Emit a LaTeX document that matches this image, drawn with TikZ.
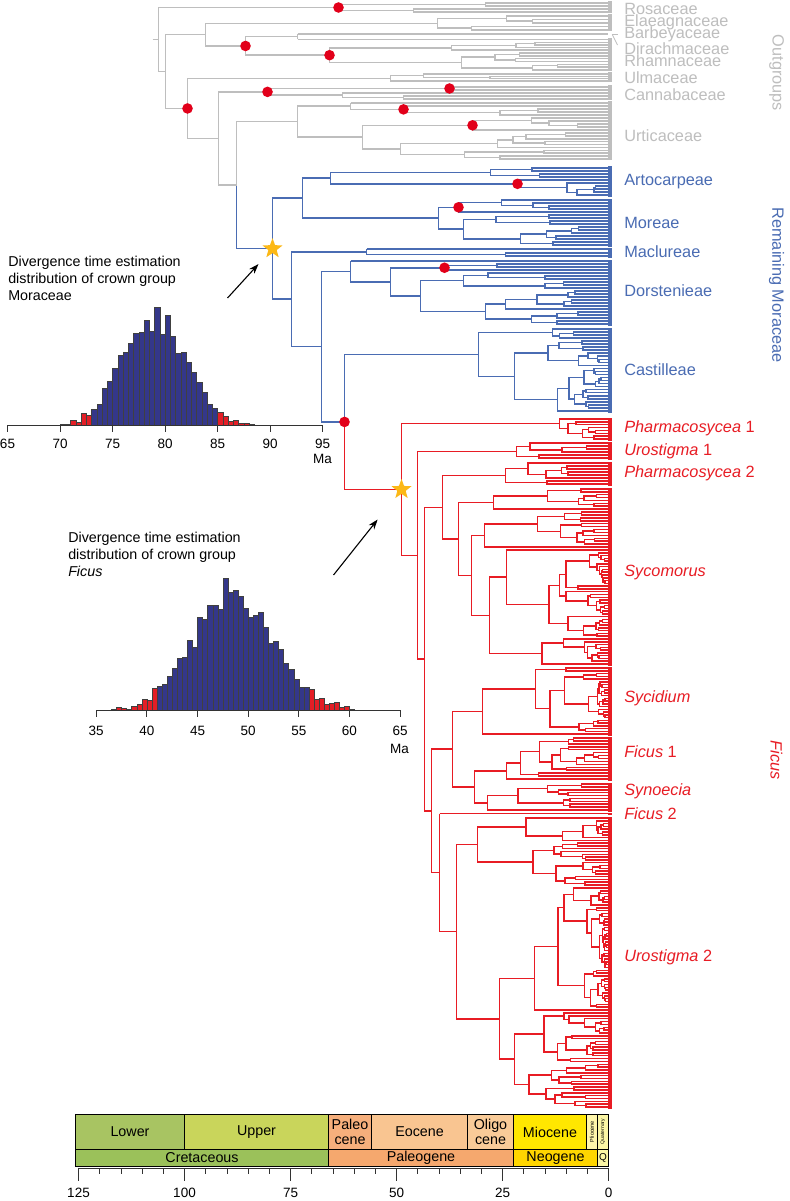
\documentclass[tikz,border=0pt]{standalone}
\usepackage{fontspec}
\setmainfont{Liberation Sans}
\usetikzlibrary{arrows.meta,shapes.geometric}

\definecolor{outgray}{RGB}{190,190,190}
\definecolor{morblue}{RGB}{74,108,179}
\definecolor{ficred}{RGB}{232,28,36}
\definecolor{dotred}{RGB}{226,0,26}
\definecolor{starorange}{RGB}{252,184,22}
\definecolor{histblue}{RGB}{52,55,138}
\definecolor{histred}{RGB}{228,30,38}
\definecolor{lowercret}{RGB}{168,196,98}
\definecolor{uppercret}{RGB}{201,213,91}
\definecolor{cretaceous}{RGB}{155,193,90}
\definecolor{paleocene}{RGB}{246,175,124}
\definecolor{eocene}{RGB}{249,197,145}
\definecolor{oligocene}{RGB}{249,203,152}
\definecolor{paleogene}{RGB}{245,168,110}
\definecolor{miocene}{RGB}{255,231,0}
\definecolor{pliocene}{RGB}{255,246,170}
\definecolor{quaternary}{RGB}{251,246,165}
\definecolor{neogene}{RGB}{255,214,0}

\def\tipx{607}
\def\brcol{outgray}
\gdef\dotlist{}
\gdef\starlist{}

% random clade: root x #1, #4 tips from y #2 to y #3; its own y goes to \cladey
\newcommand\clade[4]{%
  \ifnum#4<2\relax
    \draw[color=\brcol] (#1,#2) -- (\tipx,#2);%
    \xdef\cladey{#2}%
  \else
    \begingroup
    \pgfmathsetmacro\cs{(#3-#2)/(#4-1)}%
    \pgfmathtruncatemacro\ck{min(#4-1,1+floor(rnd*(#4-1)))}%
    \pgfmathtruncatemacro\cm{#4-\ck}%
    \pgfmathsetmacro\cyb{#2+(\ck-1)*\cs}%
    \pgfmathsetmacro\cyc{#2+\ck*\cs}%
    \pgfmathsetmacro\cxa{#1+(\tipx-#1)*(0.12+0.45*rnd)}%
    \pgfmathsetmacro\cxb{#1+(\tipx-#1)*(0.12+0.45*rnd)}%
    \edef\next{\noexpand\clade{\cxa}{#2}{\cyb}{\ck}}\next
    \let\cyA\cladey
    \edef\next{\noexpand\clade{\cxb}{\cyc}{#3}{\cm}}\next
    \let\cyB\cladey
    \pgfmathsetmacro\cym{(\cyA+\cyB)/2}%
    \draw[color=\brcol] (\cxa,\cyA) -- (#1,\cyA) -- (#1,\cyB) -- (\cxb,\cyB);%
    \xdef\cladey{\cym}%
    \endgroup
  \fi}
% fixed node at x #2: child A at x #3 drawn by #4, child B at x #5 drawn by #6
\newcommand\bnode[6][\parcol]{%
  \begingroup
  \let\parcol\brcol
  #4\let\yA\cladey
  #6\let\yB\cladey
  \pgfmathsetmacro\ym{(\yA+\yB)/2}%
  \draw[color=\parcol] (#3,\yA) -- (#2,\yA) -- (#2,\ym);%
  \draw[color=#1] (#2,\ym) -- (#2,\yB) -- (#5,\yB);%
  \xdef\cladey{\ym}%
  \endgroup}
\newcommand\leaf[2]{\draw[color=\brcol] (#1,#2) -- (\tipx,#2);\xdef\cladey{#2}}
\newcommand\dotat[1]{\xdef\dotlist{\unexpanded\expandafter{\dotlist}\noexpand\fill[dotred] (#1,\cladey) circle (5.3);}}
\newcommand\staron[2]{\xdef\starlist{\unexpanded\expandafter{\starlist}\noexpand\node[crownstar] (#2) at (#1,\cladey) {};}}

\begin{document}
\begin{tikzpicture}[x=1pt, y=-1pt, line width=1.5pt, line join=miter,
  clade/.style={anchor=west, inner sep=0pt, font=\fontsize{16.3}{19}\selectfont},
  group/.style={rotate=-90, inner sep=0pt, font=\fontsize{16.3}{19}\selectfont},
  note/.style={anchor=north west, align=left, inner sep=0pt, font=\fontsize{14.3}{17}\selectfont},
  tick/.style={font=\fontsize{13.5}{15}\selectfont, inner sep=0pt},
  epoch/.style={draw=black, line width=0.8pt},
  era/.style={font=\fontsize{14.3}{15}\selectfont, align=center, inner sep=0pt},
  bar/.style={draw=black!75, line width=0.4pt},
  crownstar/.style={star, star points=5, star point ratio=2.4, fill=starorange, inner sep=0pt, minimum size=21pt},
  pointer/.style={-{Stealth[length=10pt,width=7pt]}, line width=1.1pt}]
  \fill[white] (0,0) rectangle (789,1201);
  \pgfmathsetseed{11}

  % tree
  \bnode{158}{338}{\clade{338}{3}{12}{4}\dotat{338}}{165}{%
    \bnode{165}{205}{%
      \bnode{205}{437}{\clade{437}{16}{30}{5}}{245}{%
        \bnode{245}{297}{\bnode{297}{297}{\leaf{297}{34}}{297}{\leaf{297}{39.5}}}{329}{%
          \bnode{329}{451}{\clade{451}{42.5}{50}{4}}{461}{\clade{461}{53}{70}{7}}\dotat{329}}\dotat{245}}}{187}{%
      \bnode{187}{390}{\clade{390}{74}{81}{4}}{218}{%
        \bnode{218}{267}{%
          \bnode{267}{449}{\clade{449}{87}{90}{2}\dotat{449}}{342}{\clade{342}{93}{99}{3}}\dotat{267}}{236}{%
          \bnode[morblue]{236}{297}{%
            \bnode{297}{350}{%
              \bnode{350}{350}{\leaf{350}{103}}{403}{\clade{403}{106}{115}{4}\dotat{403}}}{362}{%
              \bnode{362}{472}{\clade{472}{118}{130}{5}\dotat{472}}{400}{\clade{400}{133}{159}{10}}}}{272}{%
            \def\brcol{morblue}%
            \bnode{272}{302}{%
              \bnode{302}{330}{%
                \bnode{330}{490}{\clade{490}{168}{177}{4}}{517}{\clade{517}{180}{195}{6}\dotat{517}}}{438}{%
                \bnode{438}{458}{\clade{458}{200}{212}{5}\dotat{458}}{463}{\clade{463}{215}{245}{11}}}}{291}{%
              \bnode{291}{366}{%
                \bnode{366}{366}{\leaf{366}{249}}{505}{\clade{505}{253}{256}{2}}}{321}{%
                \bnode{321}{350}{%
                  \bnode{350}{350}{\leaf{350}{261}}{390}{%
                    \bnode{390}{444}{\clade{444}{264}{270}{3}\dotat{444}}{420}{\clade{420}{273}{324}{18}}}}{344}{%
                  \bnode[ficred]{344}{478}{%
                    \bnode{478}{552}{\clade{552}{329}{338}{4}}{514}{\clade{514}{341}{411}{24}}}{401}{%
                    \def\brcol{ficred}%
                    \bnode{401}{559}{\clade{559}{419}{439}{8}}{417}{%
                      \bnode{417}{516}{\clade{516}{443}{458}{6}}{424}{%
                        \bnode{424}{442}{%
                          \bnode{442}{505}{\clade{505}{463}{484}{8}}{458}{%
                            \bnode{458}{493}{\clade{493}{489}{509}{8}}{471}{%
                              \bnode{471}{484}{\clade{484}{512}{547}{13}}{489}{\clade{489}{550}{664}{42}}}}}{431}{%
                          \bnode{431}{452}{%
                            \bnode{452}{482}{\clade{482}{668}{734}{25}}{474}{%
                              \bnode{474}{506}{\clade{506}{738}{779}{15}}{487}{\clade{487}{784}{810}{10}}}}{439}{%
                            \bnode{439}{439}{\leaf{439}{813.5}}{456}{%
                              \bnode{456}{477}{\clade{477}{818}{885}{25}}{499}{%
                                \bnode{499}{534}{\clade{534}{888}{1010}{44}}{514}{\clade{514}{1013}{1107}{34}}}}}}}}\staron{401}{ficcrown}}\dotat{344}}}}\staron{272}{morcrown}}}}\dotat{187}}}
  \draw[outgray] (152,\cladey) -- (158,\cladey);
  \dotlist
  \starlist

  % tip bars
  \foreach \a/\b in {1.5/13.5, 14.5/31.5, 38/71.5, 72.5/82.5, 85.5/100.5, 101.5/160.5}
    \fill[outgray] (607,\a) rectangle (611,\b);
  \draw[outgray, line width=0.8pt] (611,34) -- (617,34);
  \draw[outgray, line width=0.8pt] (612,35) -- (617,45);
  \foreach \a/\b in {166.5/196.5, 198.5/246.5, 247.5/257.5, 259.5/325.5, 327.5/412.5}
    \fill[morblue] (607,\a) rectangle (611,\b);
  \foreach \a/\b in {417.5/440.5, 441.5/459.5, 461.5/485.5, 487.5/665.5, 666.5/735.5, 736.5/780.5, 782.5/811.5, 812.5/814.5, 816.5/1108.5}
    \fill[ficred] (607,\a) rectangle (611,\b);

  % clade labels
  \foreach \y/\t in {9/Rosaceae, 22.7/Elaeagnaceae, 34.3/Barbeyaceae, 48.3/Dirachmaceae, 61/Rhamnaceae, 77.7/Ulmaceae, 95/Cannabaceae, 135.7/Urticaceae}
    \node[clade, outgray] at (623,\y) {\t};
  \foreach \y/\t in {182/Artocarpeae, 222.5/Moreae, 252/Maclureae, 291/Dorstenieae, 370/Castilleae}
    \node[clade, morblue] at (623,\y) {\t};
  \foreach \y/\t/\n in {428.5/Pharmacosycea/1, 451/Urostigma/1, 473/Pharmacosycea/2, 572/Sycomorus/, 698/Sycidium/, 752/Ficus/1, 791/Synoecia/, 814/Ficus/2, 957/Urostigma/2}
    \node[clade, ficred] at (623,\y) {\textit{\t} \n};
  \node[group, outgray] (outlab) at (776,73) {Outgroups};
  \node[group, morblue] (morlab) at (776,285) {Remaining Moraceae};
  \node[group, ficred] (ficlab) at (776,760) {\textit{Ficus}};

  % crown Moraceae histogram
  \node[note] (mornote) at (7,255) {Divergence time estimation\\distribution of crown group\\Moraceae};
  \coordinate (mortail) at (227,298);
  \draw[pointer, shorten >=11pt] (mortail) -- (morcrown);
  \foreach \m/\h in {70/0.7, 70.5/0.7, 71/5, 71.5/3, 72/12, 72.5/9.5, 85/13, 85.5/9, 86/4.3, 86.5/5, 87/2, 87.5/1.7, 88/0.7}
    \filldraw[bar, fill=histred] ({7+(\m-65)*10.5},425) rectangle ++(5.25,-\h);
  \foreach \m/\h in {73/15.5, 73.5/21, 74/37, 74.5/44, 75/57, 75.5/70, 76/72.7, 76.5/82, 77/92, 77.5/92.5, 78/105, 78.5/94, 79/118, 79.5/91, 80/110, 80.5/89, 81/72, 81.5/73, 82/63, 82.5/53, 83/43, 83.5/33, 84/21, 84.5/17}
    \filldraw[bar, fill=histblue] ({7+(\m-65)*10.5},425) rectangle ++(5.25,-\h);
  \draw[black!80, line width=0.8pt] (7,425) -- (322,425);
  \foreach \m in {65,70,...,95} {
    \draw[black!80, line width=0.8pt] ({7+(\m-65)*10.5},425) -- ++(0,7);
    \node[tick] at ({7+(\m-65)*10.5},444) {\m};
  }
  \node[tick] at (322,459) {Ma};

  % crown Ficus histogram
  \node[note] (ficnote) at (67,531) {Divergence time estimation\\distribution of crown group\\\textit{Ficus}};
  \coordinate (fictail) at (333,575);
  \draw[pointer, shorten >=27pt] (fictail) -- (ficcrown);
  \foreach \m/\h in {36.5/0.7, 37/2.7, 37.5/2, 38/1.3, 38.5/4, 39/6, 39.5/10.7, 40/10, 40.5/22, 56/21, 56.5/11.3, 57/12, 57.5/6, 58/6.7, 58.5/8.3, 59/2.7, 59.5/4, 60/1.3}
    \filldraw[bar, fill=histred] ({95.7+(\m-35)*10.13},710) rectangle ++(5.07,-\h);
  \foreach \m/\h in {41/24, 41.5/26, 42/34, 42.5/41.7, 43/51.7, 43.5/53, 44/69.7, 44.5/62.7, 45/93, 45.5/91, 46/105, 46.5/105, 47/100.7, 47.5/132, 48/118, 48.5/120, 49/114.3, 49.5/102, 50/93, 50.5/95, 51/98, 51.5/83, 52/66.7, 52.5/69, 53/60.7, 53.5/47, 54/41, 54.5/31, 55/22.7, 55.5/22.7}
    \filldraw[bar, fill=histblue] ({95.7+(\m-35)*10.13},710) rectangle ++(5.07,-\h);
  \draw[black!80, line width=0.8pt] (95.7,710) -- (399.6,710);
  \foreach \m in {35,40,...,65} {
    \draw[black!80, line width=0.8pt] ({95.7+(\m-35)*10.13},710) -- ++(0,7);
    \node[tick] at ({95.7+(\m-35)*10.13},730.5) {\m};
  }
  \node[tick] at (399,749) {Ma};

  % geological time scale
  \foreach \a/\b/\c in {75/184/lowercret, 184/328/uppercret, 328/371/paleocene, 371/467/eocene, 467/513/oligocene, 513/586/miocene, 586/597/pliocene, 597/608/quaternary}
    \filldraw[epoch, fill=\c] (\a,1114) rectangle (\b,1149);
  \foreach \a/\b/\c in {75/328/cretaceous, 328/513/paleogene, 513/597/neogene, 597/608/quaternary}
    \filldraw[epoch, fill=\c] (\a,1149) rectangle (\b,1166);
  \node[era] (lower) at (129.5,1132) {Lower};
  \node[era] (upper) at (256,1132) {Upper};
  \node[era] (paleo) at (349.5,1132) {Paleo\\cene};
  \node[era] (eo) at (419,1132) {Eocene};
  \node[era] (oligo) at (490,1132) {Oligo\\cene};
  \node[era] (mio) at (549.5,1132) {Miocene};
  \node[rotate=90, inner sep=0pt, font=\fontsize{5.5}{6}\selectfont] (plio) at (591.5,1131.5) {Pliocene};
  \node[rotate=90, inner sep=0pt, font=\fontsize{5}{6}\selectfont] (quat) at (602.5,1131.5) {Quaternary};
  \node[era] (cret) at (201.5,1158) {Cretaceous};
  \node[era] (paleog) at (420.5,1158) {Paleogene};
  \node[era] (neog) at (555,1158) {Neogene};
  \node[inner sep=0pt, font=\fontsize{10}{11}\selectfont] (quatq) at (602.5,1158) {Q};

  \draw[black!80, line width=0.8pt] (78,1168) -- (608,1168);
  \foreach \m in {0,5,...,125}
    \draw[black!80, line width=0.8pt] ({608-4.24*\m},1168) -- ++(0,6);
  \foreach \m in {0,25,...,125} {
    \draw[black!80, line width=0.8pt] ({608-4.24*\m},1168) -- ++(0,13);
    \node[tick] at ({608-4.24*\m},1193) {\m};
  }
\end{tikzpicture}
\end{document}
